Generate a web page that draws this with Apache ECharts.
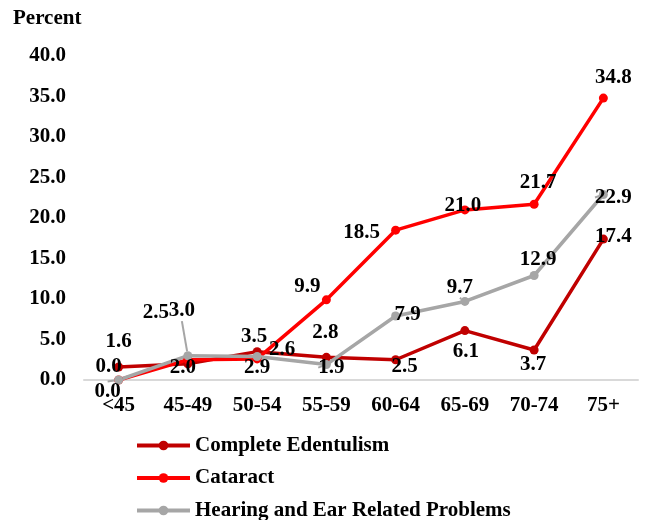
<!DOCTYPE html>
<html>
<head>
<meta charset="utf-8">
<script src="https://cdn.jsdelivr.net/npm/echarts@6/dist/echarts.min.js"></script>
<style>
html,body{margin:0;padding:0;background:#fff;}
#chart{width:653px;height:520px;}
</style>
</head>
<body>
<div id="chart"></div>
<script>
var ageGroups = ['<45','45-49','50-54','55-59','60-64','65-69','70-74','75+'];
var edentulism = [1.6, 2.0, 3.5, 2.8, 2.5, 6.1, 3.7, 17.4];
var cataract = [0.0, 2.5, 2.6, 9.9, 18.5, 21.0, 21.7, 34.8];
var hearing = [0.0, 3.0, 2.9, 1.9, 7.9, 9.7, 12.9, 22.9];

// label nudges (px) from each point
var edentulismLbl = [[0,-25],[-5,4],[-3,-15],[-1,-25],[9,7],[1,21],[-1,15],[10,-2]];
var cataractLbl = [[-10,-13],[-32,-47],[25,-9],[-19,-13],[-34,2],[-2,-4],[4,-22],[10,-21]];
var hearingLbl = [[-11,12],[-6,-45],[0,11],[5,3],[12,-1],[-5,-14],[4,-16],[10,3]];

var FONT = "'Liberation Serif','Times New Roman',serif";
var FS = 21;

function mkSeries(name, color, values, nudges, leader){
    return {
        name: name,
        type: 'line',
        data: values,
        symbol: 'circle',
        symbolSize: 9,
        lineStyle: {color: color, width: 3.5},
        itemStyle: {color: color},
        label: {
            show: true,
            position: 'inside',
            formatter: function(p){ return p.value.toFixed(1); },
            color: '#000',
            fontFamily: FONT,
            fontWeight: 'bold',
            fontSize: FS
        },
        labelLine: {show: !!leader, lineStyle: {color: '#A6A6A6', width: 2}},
        labelLayout: function(p){
            var n = nudges[p.dataIndex];
            return {dx: n[0], dy: n[1]};
        },
        emphasis: {disabled: true}
    };
}

var myChart = echarts.init(document.getElementById('chart'));
var option = {
    animation: false,
    title: {
        text: 'Percent',
        left: 13,
        top: 8,
        padding: 0,
        textStyle: {fontFamily: FONT, fontWeight: 'bold', fontSize: FS, color: '#000'}
    },
    grid: {left: 84, right: 15, top: 56, bottom: 140, containLabel: false},
    legend: {
        orient: 'vertical',
        left: 135,
        top: 435,
        height: 100,
        padding: 0,
        itemWidth: 53,
        itemHeight: 12,
        itemGap: 11.5,
        lineStyle: {width: 4},
        data: ['Complete Edentulism', 'Cataract', 'Hearing and Ear Related Problems'],
        textStyle: {fontFamily: FONT, fontWeight: 'bold', fontSize: FS, lineHeight: 21, color: '#000'}
    },
    xAxis: {
        type: 'category',
        data: ageGroups,
        axisLine: {lineStyle: {color: '#D9D9D9', width: 2}},
        axisTick: {show: false},
        axisLabel: {color: '#000', fontFamily: FONT, fontWeight: 'bold', fontSize: FS, margin: 15}
    },
    yAxis: {
        type: 'value',
        min: 0,
        max: 40,
        interval: 5,
        axisLine: {show: false},
        axisTick: {show: false},
        splitLine: {show: false},
        axisLabel: {
            color: '#000', fontFamily: FONT, fontWeight: 'bold', fontSize: FS, margin: 18,
            padding: [4, 0, 0, 0],
            formatter: function(v){ return v.toFixed(1); }
        }
    },
    series: [
        mkSeries('Complete Edentulism', '#C00000', edentulism, edentulismLbl, false),
        mkSeries('Cataract', '#FF0000', cataract, cataractLbl, false),
        mkSeries('Hearing and Ear Related Problems', '#A6A6A6', hearing, hearingLbl, true)
    ]
};
myChart.setOption(option);
</script>
</body>
</html>
